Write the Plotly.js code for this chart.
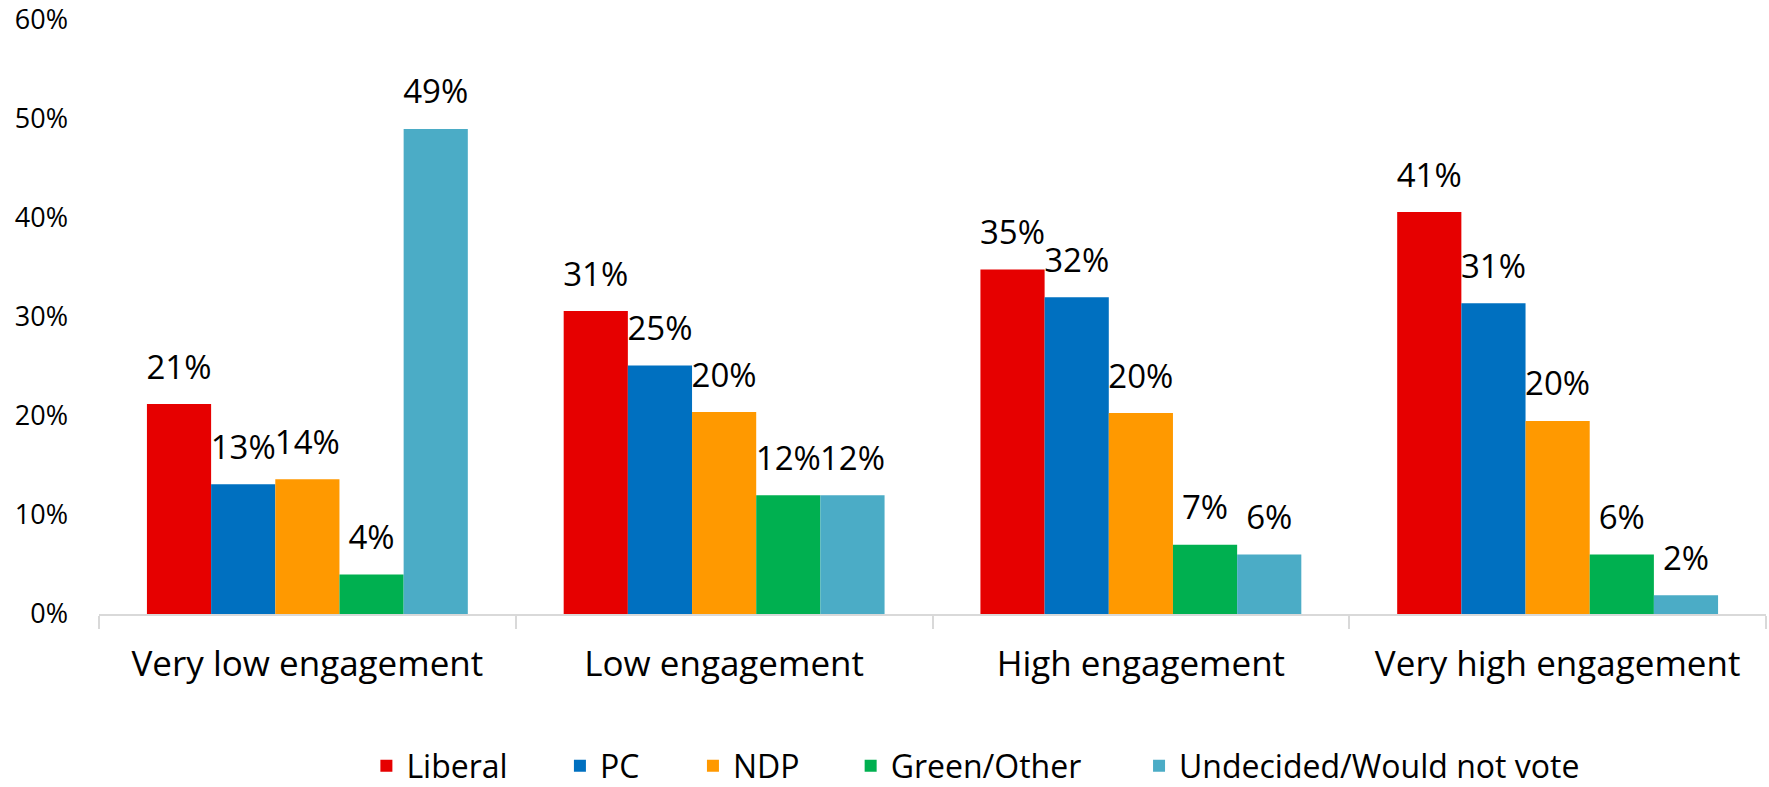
<!DOCTYPE html>
<html>
<head>
<meta charset="utf-8">
<script src="https://cdn.plot.ly/plotly-3.0.1.min.js"></script>
<style>html,body{margin:0;padding:0;background:#fff;}#chart{width:1769px;height:787px;}</style>
</head>
<body>
<div id="chart"></div>
<script>
var categories = ["Very low engagement", "Low engagement", "High engagement", "Very high engagement"];
var seriesNames = ["Liberal", "PC", "NDP", "Green/Other", "Undecided/Would not vote"];
var liberal   = [0.212, 0.306, 0.348, 0.406];
var pc        = [0.131, 0.251, 0.320, 0.314];
var ndp       = [0.136, 0.204, 0.203, 0.195];
var green     = [0.040, 0.120, 0.070, 0.060];
var undecided = [0.490, 0.120, 0.060, 0.019];
var yTickVals = [0, 0.1, 0.2, 0.3, 0.4, 0.5, 0.6];
var yTickText = ["0%", "10%", "20%", "30%", "40%", "50%", "60%"];

var colors = ["#E60000", "#0070C0", "#FF9900", "#00B050", "#4BACC6"];
var values = [liberal, pc, ndp, green, undecided];
var legendIds = ["legend", "legend2", "legend3", "legend4", "legend5"];
var legendX = [0.1604, 0.2765, 0.3563, 0.4509, 0.6239];

var FONT = "Open Sans, sans-serif";
var traces = [];
for (var i = 0; i < 5; i++) {
  traces.push({
    type: "bar", name: seriesNames[i], x: categories, y: values[i],
    marker: {color: colors[i], line: {width: 0}},
    legend: legendIds[i], hoverinfo: "none"
  });
}
for (var j = 0; j < 5; j++) {
  traces.push({
    type: "scatter", mode: "markers+text", x: categories, y: values[j],
    marker: {size: 26, opacity: 0, color: colors[j]},
    text: values[j].map(function (v) { return Math.round(v * 100) + "%"; }),
    textposition: "top center",
    textfont: {family: FONT, size: 33, color: "#000"},
    showlegend: false, hoverinfo: "none", cliponaxis: false
  });
}

var layout = {
  width: 1769, height: 787,
  margin: {l: 99, r: 3, t: 20, b: 173, autoexpand: false},
  paper_bgcolor: "#fff", plot_bgcolor: "#fff",
  barmode: "group", bargap: 0.23, bargroupgap: 0,
  scattermode: "group", scattergap: 0.23,
  font: {family: FONT, color: "#000"},
  xaxis: {
    type: "category", showline: true, linecolor: "#D9D9D9", linewidth: 2,
    ticks: "outside", tickson: "boundaries", ticklen: 13, tickcolor: "#D9D9D9", tickwidth: 2,
    tickfont: {family: FONT, size: 35, color: "#000"}, ticklabelstandoff: 18,
    showgrid: false, zeroline: false, fixedrange: true, automargin: false
  },
  yaxis: {
    range: [0, 0.6], tickvals: yTickVals, ticktext: yTickText,
    showgrid: false, zeroline: false, showline: false, ticks: "",
    tickfont: {family: FONT, size: 27, color: "#000"}, ticklabelstandoff: 30,
    fixedrange: true, automargin: false
  },
  showlegend: true
};
for (var k = 0; k < 5; k++) {
  layout[legendIds[k]] = {
    orientation: "h", x: legendX[k], xanchor: "left", y: -0.2559, yanchor: "middle",
    font: {family: FONT, size: 32, color: "#000"}, bgcolor: "rgba(0,0,0,0)",
    itemwidth: 30, tracegroupgap: 0
  };
}

Plotly.newPlot("chart", traces, layout, {displayModeBar: false, staticPlot: true});
</script>
</body>
</html>
